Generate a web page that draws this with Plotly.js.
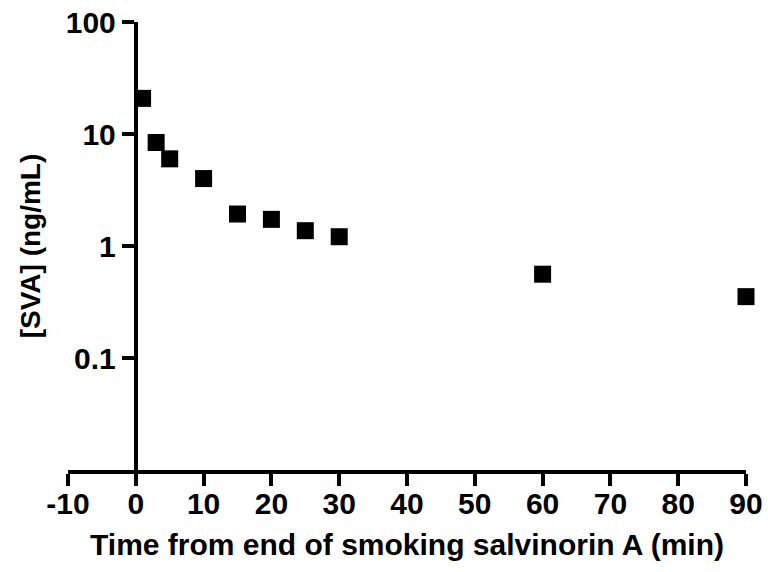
<!DOCTYPE html>
<html>
<head>
<meta charset="utf-8">
<script src="https://cdn.plot.ly/plotly-3.0.1.min.js"></script>
<style>html,body{margin:0;padding:0;background:#fff;}#chart{width:768px;height:572px;}</style>
</head>
<body>
<div id="chart"></div>
<script>
const timeMin = [1, 3, 5, 10, 15, 20, 25, 30, 60, 90];
const svaConc = [20.8, 8.4, 6.0, 4.0, 1.93, 1.73, 1.37, 1.21, 0.56, 0.353];
const xTickVals = [-10, 0, 10, 20, 30, 40, 50, 60, 70, 80, 90];
const xTickText = ['-10', '0', '10', '20', '30', '40', '50', '60', '70', '80', '90'];
const yTickVals = [0.1, 1, 10, 100];
const yTickText = ['0.1', '1', '10', '100'];

const fontFam = 'Liberation Sans, Arial, sans-serif';

const trace = {
  x: timeMin,
  y: svaConc,
  type: 'scatter',
  mode: 'markers',
  marker: {symbol: 'square', size: 17, color: '#000000', line: {width: 0}},
  cliponaxis: false,
  hoverinfo: 'x+y'
};

const layout = {
  width: 768,
  height: 572,
  margin: {l: 68, r: 22, t: 22, b: 102},
  paper_bgcolor: '#ffffff',
  plot_bgcolor: '#ffffff',
  showlegend: false,
  font: {family: fontFam, color: '#000000'},
  xaxis: {
    range: [-10, 90],
    tickvals: xTickVals,
    ticktext: xTickText,
    ticks: 'outside',
    ticklen: 12,
    tickwidth: 4,
    tickcolor: '#000',
    showline: true,
    linewidth: 4,
    linecolor: '#000',
    showgrid: false,
    zeroline: false,
    automargin: false,
    ticklabelstandoff: -8,
    tickfont: {family: fontFam, size: 30, color: '#000', weight: 'bold'},
    title: {text: 'Time from end of smoking salvinorin A (min)', font: {family: fontFam, size: 30, color: '#000', weight: 'bold'}, standoff: 16}
  },
  yaxis: {
    type: 'log',
    range: [-2, 2],
    anchor: 'free',
    position: 0.1,
    tickvals: yTickVals,
    ticktext: yTickText,
    ticks: 'outside',
    ticklen: 12,
    tickwidth: 4,
    tickcolor: '#000',
    showline: true,
    linewidth: 4,
    linecolor: '#000',
    showgrid: false,
    zeroline: false,
    automargin: false,
    tickfont: {family: fontFam, size: 30, color: '#000', weight: 'bold'},
    title: {text: '[SVA] (ng/mL)', font: {family: fontFam, size: 28, color: '#000', weight: 'bold'}, standoff: 16}
  }
};

Plotly.newPlot('chart', [trace], layout, {displayModeBar: false, staticPlot: true});
</script>
</body>
</html>
